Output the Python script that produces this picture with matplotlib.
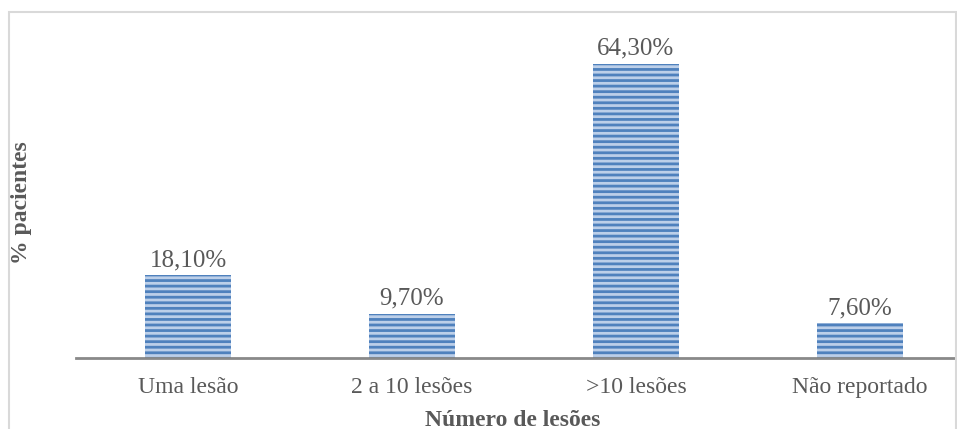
import matplotlib
matplotlib.use("Agg")
import matplotlib.pyplot as plt
from matplotlib.patches import Rectangle

categories = ["Uma lesão", "2 a 10 lesões", ">10 lesões", "Não reportado"]
percentages = [18.10, 9.70, 64.30, 7.60]
x_title = "Número de lesões"
y_title = "% pacientes"

plt.rcParams["font.family"] = ["Liberation Serif", "DejaVu Serif"]
plt.rcParams["hatch.linewidth"] = 2.0

W, H = 957, 429
fig = plt.figure(figsize=(W / 100, H / 100), dpi=100)

# light gray chart-area frame
fig.patches.append(Rectangle((8.5 / W, -0.1), (956 - 8.5) / W, 1.1 - 12.5 / H,
                             transform=fig.transFigure, fill=False,
                             edgecolor="#d9d9d9", linewidth=1.5))

ax_left, ax_right = 76, 972
ax_base, ax_top = 358, 38
ax = fig.add_axes([ax_left / W, (H - ax_base) / H,
                   (ax_right - ax_left) / W, (ax_base - ax_top) / H])
ax.set_xlim(-0.5, len(categories) - 0.5)
ax.set_ylim(0, 70)

bars = ax.bar(range(len(categories)), percentages, width=0.38,
              color="#bccfe9", hatch="---", edgecolor="#4f81bd", linewidth=0)

for i, v in enumerate(percentages):
    ax.text(i, v + 0.9, f"{v:.2f}%".replace(".", ","), ha="center", va="bottom",
            fontsize=18, color="#595959")

for s in ["top", "right", "left"]:
    ax.spines[s].set_visible(False)
ax.spines["bottom"].set_color("#898989")
ax.spines["bottom"].set_linewidth(2)
ax.set_yticks([])
ax.set_xticks(range(len(categories)))
ax.set_xticklabels(categories, fontsize=17, color="#595959")
ax.tick_params(axis="x", length=0, pad=14)

fig.text(513 / W, 1 - 420 / H, x_title, ha="center", va="center",
         fontsize=17, fontweight="bold", color="#595959")
fig.text(22 / W, 1 - 203 / H, y_title, ha="center", va="center",
         rotation=90, fontsize=17, fontweight="bold", color="#595959")

fig.savefig("out.png", dpi=100)
